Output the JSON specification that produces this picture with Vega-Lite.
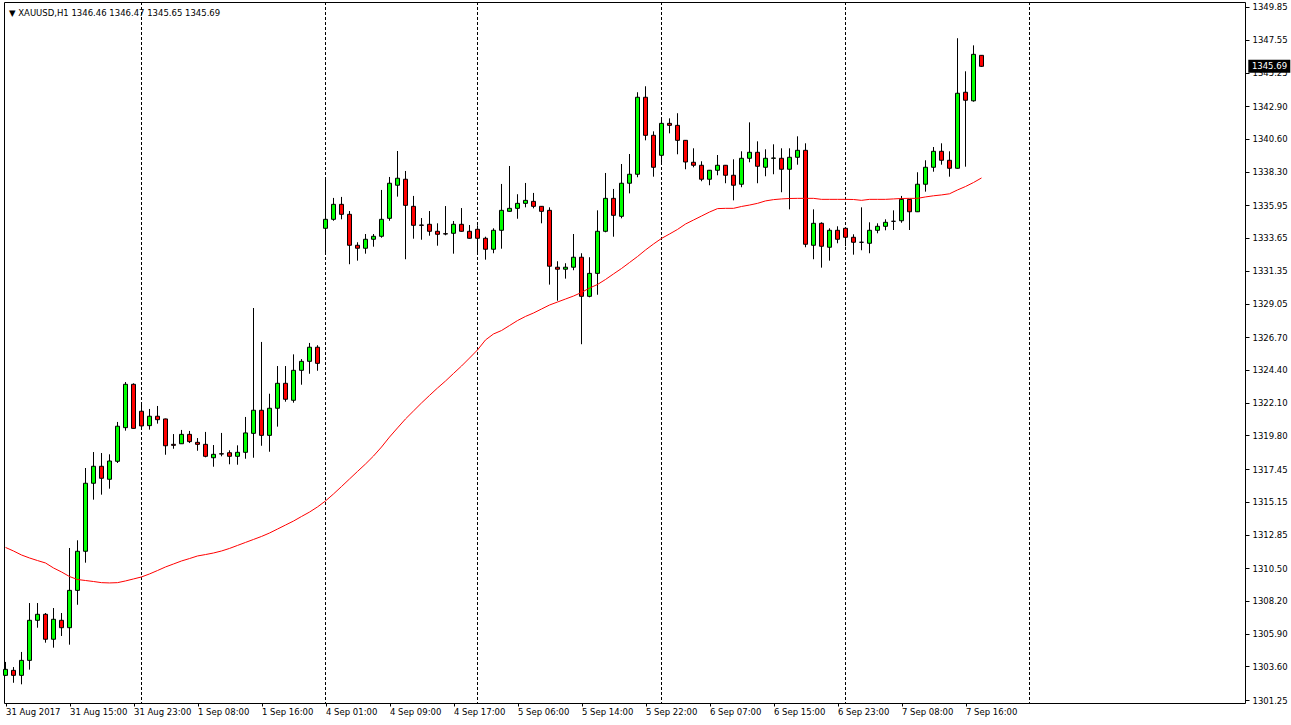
{
  "$schema": "https://vega.github.io/schema/vega-lite/v6.json",
  "width": 1241,
  "height": 701,
  "autosize": {"type": "none"},
  "padding": {"left": 4, "top": 2, "right": 46, "bottom": 22},
  "background": "white",
  "config": {
    "view": {"stroke": "black", "strokeWidth": 1},
    "font": "DejaVu Sans",
    "axis": {
      "labelFont": "DejaVu Sans",
      "labelFontSize": 8.5,
      "labelColor": "black",
      "tickColor": "black",
      "labelOverlap": false,
      "labelFlush": false,
      "labelBound": false,
      "grid": false,
      "domain": false
    }
  },
  "title": {
    "text": "▼ XAUUSD,H1  1346.46 1346.47 1345.65 1345.69",
    "anchor": "start",
    "frame": "group",
    "orient": "top",
    "offset": -16,
    "dx": 5,
    "font": "DejaVu Sans",
    "fontSize": 8.5,
    "fontWeight": "normal",
    "color": "black"
  },
  "datasets": {
    "bars": [
      {"i":0,"o":1302.98,"h":1303.92,"l":1302.93,"c":1303.40,"ma":1311.95},
      {"i":1,"o":1303.33,"h":1303.56,"l":1302.46,"c":1302.98,"ma":1311.70},
      {"i":2,"o":1302.98,"h":1304.62,"l":1302.35,"c":1304.03,"ma":1311.42},
      {"i":3,"o":1304.03,"h":1308.05,"l":1303.38,"c":1306.84,"ma":1311.21},
      {"i":4,"o":1306.84,"h":1308.05,"l":1306.32,"c":1307.26,"ma":1311.03},
      {"i":5,"o":1307.26,"h":1307.35,"l":1305.27,"c":1305.51,"ma":1310.86},
      {"i":6,"o":1305.51,"h":1307.70,"l":1304.92,"c":1306.91,"ma":1310.51},
      {"i":7,"o":1306.84,"h":1307.35,"l":1305.74,"c":1306.32,"ma":1310.23},
      {"i":8,"o":1306.32,"h":1311.91,"l":1305.13,"c":1308.94,"ma":1309.91},
      {"i":9,"o":1308.94,"h":1312.45,"l":1307.93,"c":1311.68,"ma":1309.70},
      {"i":10,"o":1311.68,"h":1317.52,"l":1310.88,"c":1316.45,"ma":1309.63},
      {"i":11,"o":1316.45,"h":1318.64,"l":1315.30,"c":1317.64,"ma":1309.56},
      {"i":12,"o":1317.64,"h":1318.57,"l":1315.65,"c":1316.80,"ma":1309.48},
      {"i":13,"o":1316.73,"h":1318.48,"l":1316.07,"c":1318.01,"ma":1309.46},
      {"i":14,"o":1317.99,"h":1320.75,"l":1317.87,"c":1320.45,"ma":1309.48},
      {"i":15,"o":1320.35,"h":1323.55,"l":1320.14,"c":1323.39,"ma":1309.60},
      {"i":16,"o":1323.39,"h":1323.46,"l":1320.28,"c":1320.30,"ma":1309.74},
      {"i":17,"o":1321.50,"h":1321.94,"l":1320.40,"c":1320.47,"ma":1309.88},
      {"i":18,"o":1320.49,"h":1321.66,"l":1320.21,"c":1321.15,"ma":1310.09},
      {"i":19,"o":1321.15,"h":1321.87,"l":1320.63,"c":1320.91,"ma":1310.33},
      {"i":20,"o":1320.96,"h":1320.98,"l":1318.45,"c":1319.08,"ma":1310.58},
      {"i":21,"o":1319.18,"h":1319.90,"l":1318.87,"c":1319.11,"ma":1310.79},
      {"i":22,"o":1319.22,"h":1320.19,"l":1319.22,"c":1319.88,"ma":1311.00},
      {"i":23,"o":1319.88,"h":1320.12,"l":1319.27,"c":1319.37,"ma":1311.17},
      {"i":24,"o":1319.32,"h":1319.62,"l":1318.73,"c":1319.18,"ma":1311.35},
      {"i":25,"o":1319.18,"h":1320.05,"l":1318.27,"c":1318.34,"ma":1311.45},
      {"i":26,"o":1318.24,"h":1319.13,"l":1317.61,"c":1318.48,"ma":1311.56},
      {"i":27,"o":1318.52,"h":1319.98,"l":1318.34,"c":1318.50,"ma":1311.70},
      {"i":28,"o":1318.59,"h":1318.76,"l":1317.78,"c":1318.34,"ma":1311.88},
      {"i":29,"o":1318.34,"h":1319.11,"l":1317.75,"c":1318.62,"ma":1312.09},
      {"i":30,"o":1318.62,"h":1321.10,"l":1318.17,"c":1319.98,"ma":1312.30},
      {"i":31,"o":1319.95,"h":1328.74,"l":1318.24,"c":1321.57,"ma":1312.51},
      {"i":32,"o":1321.57,"h":1326.36,"l":1319.08,"c":1319.81,"ma":1312.72},
      {"i":33,"o":1319.81,"h":1322.73,"l":1318.66,"c":1321.71,"ma":1312.96},
      {"i":34,"o":1321.71,"h":1324.67,"l":1320.42,"c":1323.46,"ma":1313.24},
      {"i":35,"o":1323.46,"h":1324.67,"l":1322.17,"c":1322.34,"ma":1313.52},
      {"i":36,"o":1322.27,"h":1325.49,"l":1322.10,"c":1324.37,"ma":1313.80},
      {"i":37,"o":1324.37,"h":1325.16,"l":1323.36,"c":1325.00,"ma":1314.12},
      {"i":38,"o":1325.00,"h":1326.29,"l":1324.13,"c":1325.99,"ma":1314.43},
      {"i":39,"o":1325.99,"h":1326.13,"l":1324.34,"c":1324.86,"ma":1314.79},
      {"i":40,"o":1334.33,"h":1337.86,"l":1332.62,"c":1334.96,"ma":1315.21},
      {"i":41,"o":1334.96,"h":1336.46,"l":1334.86,"c":1336.01,"ma":1315.70},
      {"i":42,"o":1336.01,"h":1336.53,"l":1334.96,"c":1335.31,"ma":1316.22},
      {"i":43,"o":1335.31,"h":1335.54,"l":1331.81,"c":1333.14,"ma":1316.75},
      {"i":44,"o":1333.14,"h":1333.35,"l":1332.06,"c":1332.93,"ma":1317.28},
      {"i":45,"o":1332.93,"h":1333.93,"l":1332.55,"c":1333.56,"ma":1317.80},
      {"i":46,"o":1333.56,"h":1333.93,"l":1333.04,"c":1333.77,"ma":1318.36},
      {"i":47,"o":1333.77,"h":1337.02,"l":1333.67,"c":1334.96,"ma":1318.99},
      {"i":48,"o":1335.03,"h":1337.93,"l":1334.86,"c":1337.49,"ma":1319.69},
      {"i":49,"o":1337.35,"h":1339.75,"l":1336.55,"c":1337.84,"ma":1320.33},
      {"i":50,"o":1337.77,"h":1338.35,"l":1332.16,"c":1335.94,"ma":1320.96},
      {"i":51,"o":1335.87,"h":1336.60,"l":1333.60,"c":1334.54,"ma":1321.52},
      {"i":52,"o":1334.56,"h":1335.05,"l":1333.53,"c":1334.54,"ma":1322.08},
      {"i":53,"o":1334.61,"h":1335.54,"l":1333.81,"c":1334.12,"ma":1322.61},
      {"i":54,"o":1334.12,"h":1334.68,"l":1333.11,"c":1333.91,"ma":1323.13},
      {"i":55,"o":1333.95,"h":1335.89,"l":1333.84,"c":1333.93,"ma":1323.62},
      {"i":56,"o":1333.98,"h":1334.84,"l":1332.55,"c":1334.61,"ma":1324.15},
      {"i":57,"o":1334.61,"h":1335.75,"l":1334.10,"c":1334.12,"ma":1324.67},
      {"i":58,"o":1334.12,"h":1334.56,"l":1333.61,"c":1333.63,"ma":1325.23},
      {"i":59,"o":1334.26,"h":1334.54,"l":1332.62,"c":1333.63,"ma":1325.80},
      {"i":60,"o":1333.63,"h":1333.74,"l":1332.13,"c":1332.86,"ma":1326.50},
      {"i":61,"o":1332.86,"h":1334.33,"l":1332.58,"c":1334.19,"ma":1326.92},
      {"i":62,"o":1334.19,"h":1337.44,"l":1332.90,"c":1335.59,"ma":1327.16},
      {"i":63,"o":1335.52,"h":1338.70,"l":1335.50,"c":1335.73,"ma":1327.51},
      {"i":64,"o":1335.73,"h":1336.72,"l":1335.00,"c":1336.08,"ma":1327.86},
      {"i":65,"o":1336.08,"h":1337.51,"l":1335.80,"c":1336.29,"ma":1328.15},
      {"i":66,"o":1336.22,"h":1336.81,"l":1335.73,"c":1335.87,"ma":1328.39},
      {"i":67,"o":1335.87,"h":1335.89,"l":1334.68,"c":1335.52,"ma":1328.67},
      {"i":68,"o":1335.59,"h":1335.80,"l":1330.38,"c":1331.67,"ma":1328.95},
      {"i":69,"o":1331.60,"h":1332.02,"l":1329.25,"c":1331.46,"ma":1329.16},
      {"i":70,"o":1331.46,"h":1331.88,"l":1330.80,"c":1331.60,"ma":1329.37},
      {"i":71,"o":1331.60,"h":1333.93,"l":1331.39,"c":1332.30,"ma":1329.58},
      {"i":72,"o":1332.30,"h":1332.58,"l":1326.20,"c":1329.56,"ma":1329.83},
      {"i":73,"o":1329.56,"h":1332.30,"l":1329.49,"c":1331.17,"ma":1330.14},
      {"i":74,"o":1331.17,"h":1335.59,"l":1329.67,"c":1334.12,"ma":1330.39},
      {"i":75,"o":1334.12,"h":1338.21,"l":1334.05,"c":1336.43,"ma":1330.74},
      {"i":76,"o":1336.43,"h":1337.09,"l":1333.74,"c":1335.24,"ma":1331.13},
      {"i":77,"o":1335.17,"h":1338.84,"l":1335.03,"c":1337.49,"ma":1331.51},
      {"i":78,"o":1337.49,"h":1339.54,"l":1336.78,"c":1338.12,"ma":1331.93},
      {"i":79,"o":1338.12,"h":1343.87,"l":1337.91,"c":1343.52,"ma":1332.35},
      {"i":80,"o":1343.52,"h":1344.29,"l":1340.50,"c":1340.85,"ma":1332.81},
      {"i":81,"o":1340.85,"h":1341.13,"l":1337.95,"c":1338.61,"ma":1333.23},
      {"i":82,"o":1339.45,"h":1342.11,"l":1338.82,"c":1341.69,"ma":1333.62},
      {"i":83,"o":1341.69,"h":1342.04,"l":1340.99,"c":1341.55,"ma":1333.93},
      {"i":84,"o":1341.55,"h":1342.40,"l":1339.52,"c":1340.50,"ma":1334.25},
      {"i":85,"o":1340.50,"h":1340.52,"l":1338.47,"c":1338.98,"ma":1334.63},
      {"i":86,"o":1338.96,"h":1339.94,"l":1338.61,"c":1338.75,"ma":1334.91},
      {"i":87,"o":1338.75,"h":1339.03,"l":1337.63,"c":1337.77,"ma":1335.19},
      {"i":88,"o":1337.77,"h":1338.42,"l":1337.35,"c":1338.40,"ma":1335.47},
      {"i":89,"o":1338.40,"h":1339.47,"l":1338.05,"c":1338.75,"ma":1335.71},
      {"i":90,"o":1338.75,"h":1338.77,"l":1337.49,"c":1338.05,"ma":1335.73},
      {"i":91,"o":1338.05,"h":1339.17,"l":1336.29,"c":1337.35,"ma":1335.73},
      {"i":92,"o":1337.42,"h":1339.73,"l":1337.21,"c":1339.24,"ma":1335.86},
      {"i":93,"o":1339.24,"h":1341.76,"l":1338.96,"c":1339.66,"ma":1335.96},
      {"i":94,"o":1339.66,"h":1340.43,"l":1337.49,"c":1338.68,"ma":1336.08},
      {"i":95,"o":1338.61,"h":1339.87,"l":1337.98,"c":1339.24,"ma":1336.25},
      {"i":96,"o":1339.24,"h":1340.22,"l":1338.12,"c":1339.26,"ma":1336.34},
      {"i":97,"o":1339.24,"h":1339.94,"l":1336.86,"c":1338.47,"ma":1336.39},
      {"i":98,"o":1338.47,"h":1339.94,"l":1335.66,"c":1339.31,"ma":1336.42},
      {"i":99,"o":1339.31,"h":1340.78,"l":1338.79,"c":1339.80,"ma":1336.43},
      {"i":100,"o":1339.80,"h":1340.29,"l":1333.00,"c":1333.21,"ma":1336.43},
      {"i":101,"o":1333.14,"h":1335.66,"l":1332.16,"c":1334.68,"ma":1336.43},
      {"i":102,"o":1334.68,"h":1334.75,"l":1331.57,"c":1333.07,"ma":1336.36},
      {"i":103,"o":1333.00,"h":1334.33,"l":1332.06,"c":1334.19,"ma":1336.36},
      {"i":104,"o":1334.19,"h":1334.47,"l":1333.28,"c":1333.56,"ma":1336.36},
      {"i":105,"o":1334.33,"h":1334.36,"l":1333.07,"c":1333.70,"ma":1336.36},
      {"i":106,"o":1333.70,"h":1333.91,"l":1332.48,"c":1333.35,"ma":1336.35},
      {"i":107,"o":1333.35,"h":1335.80,"l":1332.79,"c":1333.35,"ma":1336.29},
      {"i":108,"o":1333.28,"h":1334.75,"l":1332.58,"c":1334.19,"ma":1336.36},
      {"i":109,"o":1334.19,"h":1334.68,"l":1333.98,"c":1334.47,"ma":1336.36},
      {"i":110,"o":1334.47,"h":1334.96,"l":1334.19,"c":1334.75,"ma":1336.36},
      {"i":111,"o":1334.82,"h":1335.59,"l":1334.21,"c":1334.82,"ma":1336.39},
      {"i":112,"o":1334.86,"h":1336.60,"l":1334.72,"c":1336.36,"ma":1336.42},
      {"i":113,"o":1336.36,"h":1336.38,"l":1334.21,"c":1335.49,"ma":1336.43},
      {"i":114,"o":1335.49,"h":1338.26,"l":1335.47,"c":1337.42,"ma":1336.43},
      {"i":115,"o":1337.42,"h":1339.10,"l":1336.90,"c":1338.61,"ma":1336.53},
      {"i":116,"o":1338.61,"h":1340.03,"l":1338.30,"c":1339.73,"ma":1336.61},
      {"i":117,"o":1339.73,"h":1340.29,"l":1338.79,"c":1339.10,"ma":1336.67},
      {"i":118,"o":1339.10,"h":1339.73,"l":1337.95,"c":1338.54,"ma":1336.75},
      {"i":119,"o":1338.54,"h":1347.66,"l":1338.52,"c":1343.80,"ma":1337.02},
      {"i":120,"o":1343.87,"h":1345.34,"l":1338.65,"c":1343.31,"ma":1337.26},
      {"i":121,"o":1343.27,"h":1347.16,"l":1343.21,"c":1346.53,"ma":1337.54},
      {"i":122,"o":1346.46,"h":1346.47,"l":1345.65,"c":1345.69,"ma":1337.86}
    ],
    "days": [{"i":17},{"i":40},{"i":59},{"i":82},{"i":105},{"i":128}]
  },
  "encoding": {
    "x": {
      "field": "i",
      "type": "quantitative",
      "scale": {"domain": [-0.1875, 154.9375], "nice": false, "zero": false, "padding": 0},
      "axis": {
        "orient": "bottom",
        "values": [0, 8, 16, 24, 32, 40, 48, 56, 64, 72, 80, 88, 96, 104, 112, 120],
        "labelExpr": "['31 Aug 2017','31 Aug 15:00','31 Aug 23:00','1 Sep 08:00','1 Sep 16:00','4 Sep 01:00','4 Sep 09:00','4 Sep 17:00','5 Sep 06:00','5 Sep 14:00','5 Sep 22:00','6 Sep 07:00','6 Sep 15:00','6 Sep 23:00','7 Sep 08:00','7 Sep 16:00'][round(datum.value/8)]",
        "title": null,
        "tickSize": 3,
        "labelAlign": "left",
        "labelBaseline": "top",
        "labelPadding": 1
      }
    },
    "y": {
      "field": "l",
      "type": "quantitative",
      "scale": {"domain": [1301.04, 1350.20], "nice": false, "zero": false, "padding": 0},
      "axis": {
        "orient": "right",
        "values": [1301.25, 1303.60, 1305.90, 1308.20, 1310.50, 1312.85, 1315.15, 1317.45, 1319.80, 1322.10, 1324.40, 1326.70, 1329.05, 1331.35, 1333.65, 1335.95, 1338.30, 1340.60, 1342.90, 1345.25, 1347.55, 1349.85],
        "format": ".2f",
        "title": null,
        "tickSize": 4,
        "labelPadding": 3
      }
    }
  },
  "layer": [
    {
      "data": {"name": "days"},
      "mark": {"type": "rule", "color": "black", "strokeWidth": 1, "strokeDash": [3, 2]},
      "encoding": {"y": null}
    },
    {
      "data": {"name": "bars"},
      "mark": {"type": "rule", "color": "black", "strokeWidth": 1},
      "encoding": {
        "y2": {"field": "h"}
      }
    },
    {
      "data": {"name": "bars"},
      "mark": {"type": "bar", "orient": "vertical", "width": 4, "stroke": "black", "strokeWidth": 1},
      "encoding": {
        "y": {
          "field": "o",
          "type": "quantitative",
          "scale": {"domain": [1301.04, 1350.20], "nice": false, "zero": false, "padding": 0},
          "axis": {
            "orient": "right",
            "values": [1301.25, 1303.60, 1305.90, 1308.20, 1310.50, 1312.85, 1315.15, 1317.45, 1319.80, 1322.10, 1324.40, 1326.70, 1329.05, 1331.35, 1333.65, 1335.95, 1338.30, 1340.60, 1342.90, 1345.25, 1347.55, 1349.85],
            "format": ".2f",
            "title": null,
            "tickSize": 4,
            "labelPadding": 3
          }
        },
        "y2": {"field": "c"},
        "fill": {
          "condition": {"test": "datum.c >= datum.o", "value": "#00ff00"},
          "value": "#ff0000"
        }
      }
    },
    {
      "data": {"name": "bars"},
      "mark": {"type": "line", "color": "#ff0000", "strokeWidth": 1},
      "encoding": {
        "y": {
          "field": "ma",
          "type": "quantitative",
          "scale": {"domain": [1301.04, 1350.20], "nice": false, "zero": false, "padding": 0},
          "axis": {
            "orient": "right",
            "values": [1301.25, 1303.60, 1305.90, 1308.20, 1310.50, 1312.85, 1315.15, 1317.45, 1319.80, 1322.10, 1324.40, 1326.70, 1329.05, 1331.35, 1333.65, 1335.95, 1338.30, 1340.60, 1342.90, 1345.25, 1347.55, 1349.85],
            "format": ".2f",
            "title": null,
            "tickSize": 4,
            "labelPadding": 3
          }
        }
      }
    },
    {
      "data": {"name": "bars"},
      "transform": [{"filter": "datum.i == 122"}],
      "mark": {"type": "rect", "color": "black", "fill": "black", "opacity": 1, "clip": false},
      "encoding": {
        "x": {"datum": 155.35},
        "x2": {"datum": 160.6},
        "y": {"datum": 1345.24},
        "y2": {"datum": 1346.15}
      }
    },
    {
      "data": {"name": "bars"},
      "transform": [{"filter": "datum.i == 122"}],
      "mark": {"type": "text", "align": "left", "baseline": "middle", "color": "white", "fill": "white", "font": "DejaVu Sans", "fontSize": 8.5, "clip": false},
      "encoding": {
        "x": {"datum": 155.8},
        "y": {
          "field": "c",
          "type": "quantitative",
          "scale": {"domain": [1301.04, 1350.20], "nice": false, "zero": false, "padding": 0},
          "axis": {
            "orient": "right",
            "values": [1301.25, 1303.60, 1305.90, 1308.20, 1310.50, 1312.85, 1315.15, 1317.45, 1319.80, 1322.10, 1324.40, 1326.70, 1329.05, 1331.35, 1333.65, 1335.95, 1338.30, 1340.60, 1342.90, 1345.25, 1347.55, 1349.85],
            "format": ".2f",
            "title": null,
            "tickSize": 4,
            "labelPadding": 3
          }
        },
        "text": {"field": "c", "type": "quantitative", "format": ".2f"}
      }
    }
  ]
}
